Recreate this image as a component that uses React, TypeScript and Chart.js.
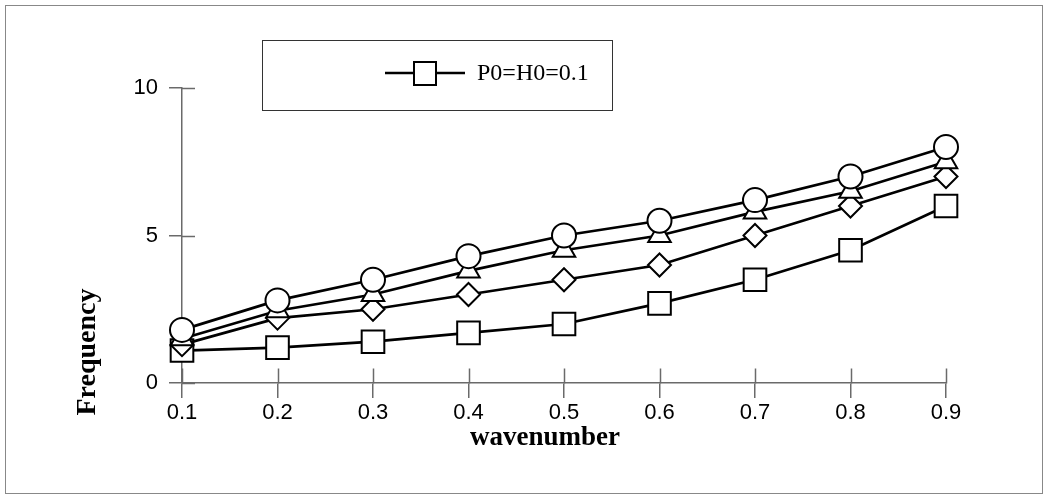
import React, { useEffect, useRef } from "react";
import { Chart, registerables } from "chart.js";

Chart.register(...registerables);

const categories = ["0.1", "0.2", "0.3", "0.4", "0.5", "0.6", "0.7", "0.8", "0.9"];
const seriesSquare = [1.1, 1.2, 1.4, 1.7, 2.0, 2.7, 3.5, 4.5, 6.0];
const seriesDiamond = [1.3, 2.2, 2.5, 3.0, 3.5, 4.0, 5.0, 6.0, 7.0];
const seriesTriangle = [1.5, 2.45, 3.0, 3.8, 4.5, 5.0, 5.8, 6.5, 7.5];
const seriesCircle = [1.8, 2.8, 3.5, 4.3, 5.0, 5.5, 6.2, 7.0, 8.0];
const yTickValues = [0, 5, 10];
const legendLabel = "P0=H0=0.1";
const xTitle = "wavenumber";
const yTitle = "Frequency";

const AXIS = "#6a6a6a";
const SANS = "'Liberation Sans', Arial, sans-serif";
const SERIF = "'Liberation Serif', 'Times New Roman', serif";

export default function App() {
  const ref = useRef<HTMLCanvasElement>(null);

  useEffect(() => {
    if (!ref.current) return;

    const crossTicks = {
      id: "crossTicks",
      beforeDatasetsDraw(chart: any) {
        const { ctx, chartArea, scales } = chart;
        const x = scales.x;
        const y = scales.y;
        const y0 = Math.round(y.getPixelForValue(0)) + 0.5;
        ctx.save();
        ctx.strokeStyle = AXIS;
        ctx.lineWidth = 1.5;
        categories.forEach((_, i) => {
          const px = Math.round(x.getPixelForValue(i)) + 0.5;
          ctx.beginPath();
          ctx.moveTo(px, y0);
          ctx.lineTo(px, y0 - 15);
          ctx.stroke();
        });
        yTickValues.forEach((v) => {
          const py = Math.round(y.getPixelForValue(v)) + 0.5;
          ctx.beginPath();
          ctx.moveTo(chartArea.left, py);
          ctx.lineTo(chartArea.left + 13, py);
          ctx.stroke();
        });
        ctx.restore();
      },
    };

    const extras = {
      id: "extras",
      afterDraw(chart: any) {
        const { ctx } = chart;
        // y title
        ctx.save();
        ctx.translate(88, 352);
        ctx.rotate(-Math.PI / 2);
        ctx.font = `bold 28px ${SERIF}`;
        ctx.fillStyle = "#000";
        ctx.textAlign = "center";
        ctx.textBaseline = "middle";
        ctx.fillText(yTitle, 0, 0);
        ctx.restore();

        // x title
        ctx.save();
        ctx.font = `bold 27px ${SERIF}`;
        ctx.fillStyle = "#000";
        ctx.textAlign = "center";
        ctx.textBaseline = "middle";
        ctx.fillText(xTitle, 545, 438);
        ctx.restore();

        // legend
        ctx.save();
        ctx.strokeStyle = "#333";
        ctx.lineWidth = 1;
        ctx.strokeRect(262.5, 40.5, 350, 70);
        ctx.strokeStyle = "#000";
        ctx.lineWidth = 2.5;
        ctx.beginPath();
        ctx.moveTo(385, 73);
        ctx.lineTo(465, 73);
        ctx.stroke();
        ctx.fillStyle = "#fff";
        ctx.lineWidth = 2;
        ctx.fillRect(414, 62, 22, 23);
        ctx.strokeRect(414, 62, 22, 23);
        ctx.fillStyle = "#000";
        ctx.font = `24px ${SERIF}`;
        ctx.textAlign = "left";
        ctx.textBaseline = "middle";
        ctx.fillText(legendLabel, 477, 74);
        ctx.restore();
      },
    };

    const common = {
      borderColor: "#000",
      borderWidth: 2.7,
      pointBackgroundColor: "#fff",
      pointBorderColor: "#000",
      pointBorderWidth: 2,
      fill: false,
      tension: 0,
    };

    const chart = new Chart(ref.current, {
      type: "line",
      data: {
        labels: categories,
        datasets: [
          { ...common, label: legendLabel, data: seriesSquare, pointStyle: "rect", pointRadius: 16, order: 4 },
          { ...common, label: "diamond", data: seriesDiamond, pointStyle: "rectRot", pointRadius: 11.5, order: 3 },
          { ...common, label: "triangle", data: seriesTriangle, pointStyle: "triangle", pointRadius: 13, order: 2 },
          { ...common, label: "circle", data: seriesCircle, pointStyle: "circle", pointRadius: 12, order: 1 },
        ] as any,
      },
      options: {
        animation: false,
        responsive: false,
        maintainAspectRatio: false,
        layout: { padding: { left: 122, right: 102, top: 88, bottom: 47 } },
        plugins: { legend: { display: false }, tooltip: { enabled: false } },
        scales: {
          x: {
            type: "category",
            offset: false,
            grid: { drawOnChartArea: false, tickLength: 15, color: AXIS, lineWidth: 1.5, offset: false },
            border: { color: AXIS, width: 1.5 },
            ticks: { font: { family: SANS, size: 22 }, color: "#000", padding: 2, maxRotation: 0, autoSkip: false },
            title: { display: false, text: xTitle },
            afterFit: (s: any) => {
              s.height = 70;
            },
          },
          y: {
            min: 0,
            max: 10,
            ticks: { stepSize: 5, font: { family: SANS, size: 22 }, color: "#000", padding: 11 },
            grid: { drawOnChartArea: false, tickLength: 13, color: AXIS, lineWidth: 1.5 },
            border: { color: AXIS, width: 1.5 },
            afterFit: (s: any) => {
              s.width = 60;
            },
          },
        },
      } as any,
      plugins: [crossTicks, extras],
    });

    return () => chart.destroy();
  }, []);

  return (
    <div style={{ position: "absolute", left: 0, top: 0, width: 1048, height: 500, background: "#fff" }}>
      <div
        style={{
          position: "absolute",
          left: 5,
          top: 5,
          width: 1038,
          height: 489,
          border: "1px solid #888",
          boxSizing: "border-box",
        }}
      />
      <canvas ref={ref} width={1048} height={500} style={{ position: "absolute", left: 0, top: 0, display: "block" }} />
    </div>
  );
}
